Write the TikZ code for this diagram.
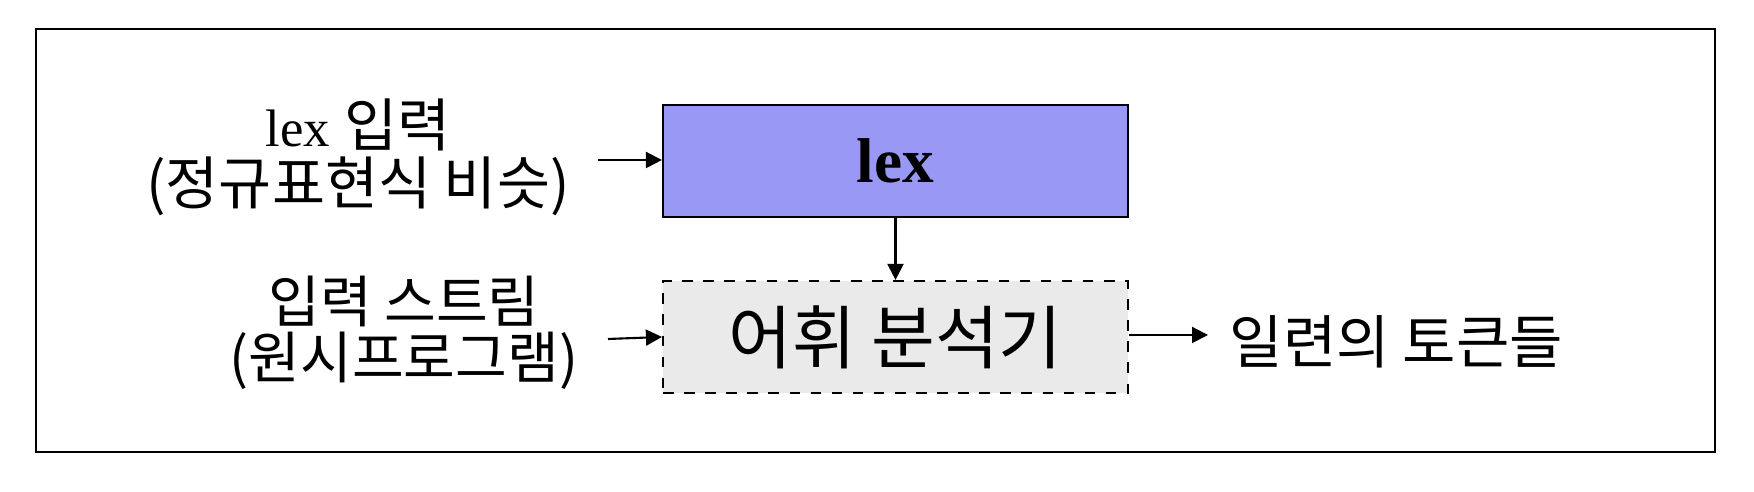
\documentclass[tikz,border=0pt]{standalone}
\usepackage{fontspec}
\setmainfont{Liberation Serif}
\newfontfamily\kr{Noto Sans CJK KR}
\usetikzlibrary{arrows.meta,positioning}
\definecolor{lexblue}{RGB}{153,153,245}
\definecolor{scangray}{RGB}{234,234,234}

\begin{document}
\begin{tikzpicture}[
    box/.style={draw, line width=0.6pt, minimum width=4.65cm, minimum height=1.12cm, inner sep=0pt},
    lbl/.style={align=center, inner sep=0pt},
    big/.style={font=\fontsize{19.7}{22}\selectfont\kr, inner sep=0pt},
    arr/.style={draw, line width=0.6pt, -{Triangle[length=1.6mm,width=1.6mm]}}
  ]
        \useasboundingbox (0,0) rectangle (17.54,4.92);
        \draw[line width=0.6pt] (0.36,0.40) rectangle (17.15,4.63);

        % boxes
        \node[box, fill=lexblue, font=\fontsize{18}{20}\selectfont\bfseries] (lex) at (8.955,3.31) {lex};
        \node[box, fill=scangray, dashed, big] (scan) at (8.955,1.55) {어휘 분석기};

        % labels
        \node[lbl, font=\fontsize{16.4}{16.5}\selectfont] (lexin) at (3.58,3.35)
            {{\fontsize{15}{16.5}\selectfont lex} {\kr 입력}\\{\kr (정규표현식 비슷)}};
        \node[lbl, font=\fontsize{16}{16}\selectfont\kr] (src) at (4.04,1.59) {입력 스트림\\(원시프로그램)};
        \node[big, anchor=west, font=\fontsize{16.5}{18}\selectfont\kr] (tok) at (12.29,1.50) {일련의 토큰들};

        \coordinate (a1) at (5.98,3.32);
        \coordinate (a2) at (6.08,1.53);
        \coordinate (a3) at (12.08,1.57);

        % arrows
        \path[arr] (a1) -- (lex.west |- a1);
        \path[arr] (a2) -- (scan.west);
        \path[arr] (lex.south) -- (scan.north);
        \path[arr] (scan.east |- a3) -- (a3);
    \end{tikzpicture}
\end{document}
